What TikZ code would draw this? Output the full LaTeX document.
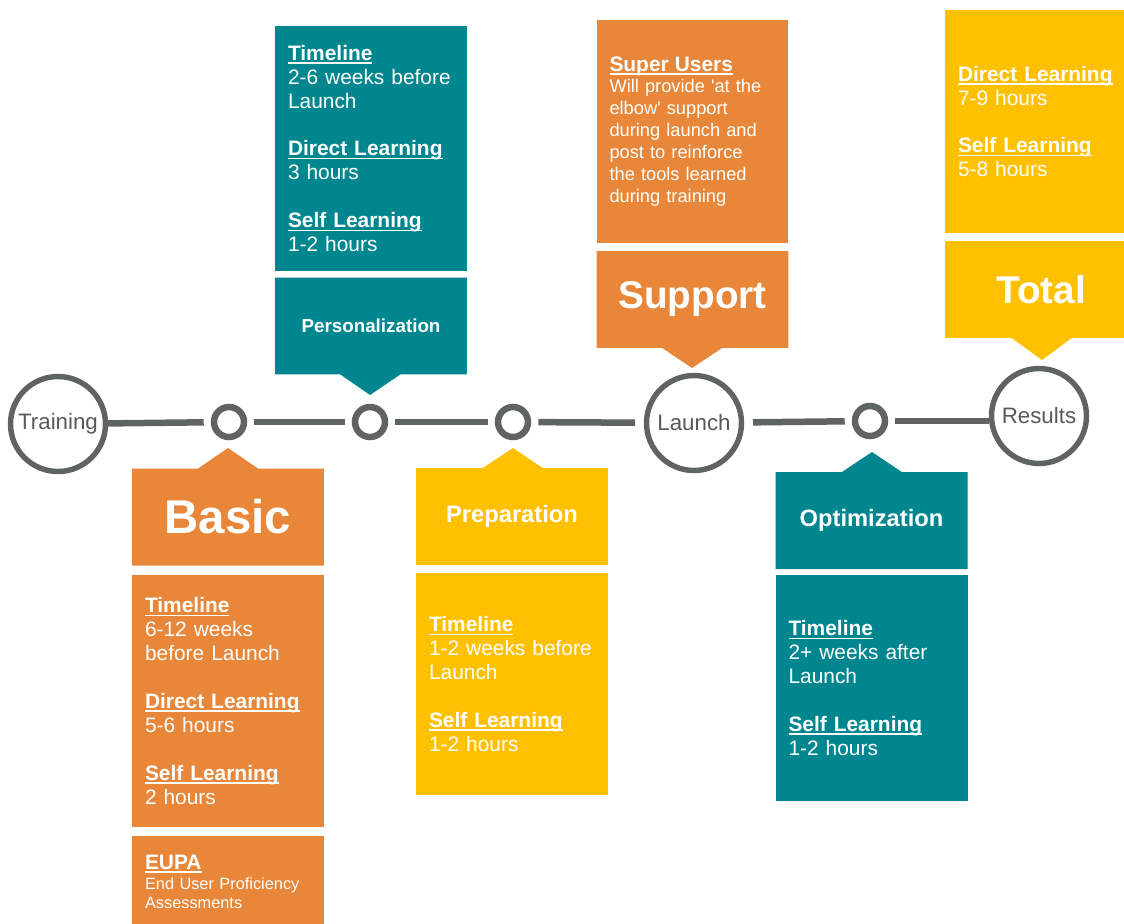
\documentclass[tikz,border=0pt]{standalone}
\usepackage{fontspec}
\setmainfont{Liberation Sans}
\usetikzlibrary{shapes.callouts}

\definecolor{orng}{HTML}{E8873A}
\definecolor{tealbox}{HTML}{00868F}
\definecolor{yell}{HTML}{FFC000}
\definecolor{linegray}{HTML}{5F6462}

\newsavebox{\hdbox}
\newcommand{\hd}[1]{\leavevmode\sbox{\hdbox}{\bfseries #1}\rlap{\rule[-2pt]{\wd\hdbox}{0.9pt}}\usebox{\hdbox}}
\newcommand{\bodyfont}{\fontsize{11.9}{13.6}\selectfont}

\begin{document}
\begin{tikzpicture}[x = 0.02cm, y = -0.02cm,
    tline/.style = {draw = linegray, line width = 3.7pt},
    big/.style = {shape = circle, draw = linegray, line width = 3.1pt, minimum size = 1.9cm, inner sep = 0pt,
        text = linegray!90!black, font = \fontsize{12.7}{14}\selectfont},
    small/.style = {shape = circle, draw = linegray, line width = 3.7pt, minimum size = 0.6cm, inner sep = 0pt},
    head/.style = {rectangle callout, callout pointer width = 1.2cm, minimum width = 3.84cm, minimum height = 1.94cm,
        inner sep = 0pt, text = white},
    info/.style = {rectangle, minimum width = 3.84cm, text width = 3.32cm, align = left, inner xsep = 0.26cm,
        inner ysep = 0pt, text = white, font = \bodyfont}]
    \useasboundingbox (0,0) rectangle (1124,923);
    \clip (0,0) rectangle (1124,923);

    \node [big] (Train) at (58,424) {Training};
    \node [small] (S1) at (229,422) {};
    \node [small] (S2) at (370,422) {};
    \node [small] (S3) at (513,422) {};
    \node [big] (Launch) at (694,423) {Launch};
    \node [small] (S4) at (870,421) {};
    \node [big] (Res) at (1039,416) {Results};

    \draw [tline, shorten > = 4pt] (Train) -- (S1);
    \draw [tline, shorten < = 4pt, shorten > = 4pt] (S1) -- (S2);
    \draw [tline, shorten < = 4pt, shorten > = 4pt] (S2) -- (S3);
    \draw [tline, shorten < = 4pt, shorten > = 5pt] (S3) -- (Launch);
    \draw [tline, shorten < = 5pt, shorten > = 4pt] (Launch) -- (S4);
    \draw [tline, shorten < = 4pt] (S4) -- (S4 -| Res.west);

    \node [head, fill = orng, callout absolute pointer = {(228,448)},
        font = \bfseries\fontsize{27}{30}\selectfont] (Basic) at (228,517) {Basic};
    \node [info, fill = orng, minimum height = 5.04cm] (BasicInfo) at (228,701)
        {\hd{Timeline}\\6-12 weeks\\before Launch\\[13.6pt]\hd{Direct Learning}\\5-6 hours\\[13.6pt]\hd{Self Learning}\\2 hours};
    \node [info, fill = orng, minimum height = 1.84cm, font = \fontsize{9.3}{11.3}\selectfont] (Eupa) at (228,882)
        {{\bodyfont\hd{EUPA}}\\End User Proficiency\\Assessments};

    \node [info, fill = tealbox, minimum height = 4.9cm] (PersInfo) at (371,148.5)
        {\hd{Timeline}\\2-6 weeks before\\Launch\\[13.6pt]\hd{Direct Learning}\\3 hours\\[13.6pt]\hd{Self Learning}\\1-2 hours};
    \node [head, fill = tealbox, callout absolute pointer = {(370,395)},
        font = \bfseries\fontsize{10.7}{12}\selectfont] (Pers) at (371,326) {Personalization};

    \node [head, fill = yell, callout absolute pointer = {(513,448)},
        font = \bfseries\fontsize{13.5}{15}\selectfont] (Prep) at (512,516.5) {Preparation};
    \node [info, fill = yell, minimum height = 4.44cm] (PrepInfo) at (512,684)
        {\hd{Timeline}\\1-2 weeks before\\Launch\\[13.6pt]\hd{Self Learning}\\1-2 hours};

    \node [info, fill = orng, minimum height = 4.46cm, font = \fontsize{10.4}{12.5}\selectfont] (SuppInfo) at (692.5,131.5)
        {{\bodyfont\hd{Super Users}}\\Will provide \textquotesingle at the\\elbow\textquotesingle{} support\\during launch and\\post to reinforce\\the tools learned\\during training};
    \node [head, fill = orng, callout absolute pointer = {(692,368)},
        font = \bfseries\fontsize{22}{25}\selectfont] (Supp) at (692.5,299.5) {Support};

    \node [head, fill = tealbox, callout absolute pointer = {(872,452)},
        font = \bfseries\fontsize{13.5}{15}\selectfont] (Opt) at (871.5,520.5) {Optimization};
    \node [info, fill = tealbox, minimum height = 4.52cm] (OptInfo) at (871.5,688)
        {\hd{Timeline}\\2+ weeks after\\Launch\\[13.6pt]\hd{Self Learning}\\1-2 hours};

    \node [info, fill = yell, minimum height = 4.46cm] (TotInfo) at (1041,121.5)
        {\hd{Direct Learning}\\7-9 hours\\[13.6pt]\hd{Self Learning}\\5-8 hours};
    \node [head, fill = yell, callout absolute pointer = {(1042,360)},
        font = \bfseries\fontsize{22}{25}\selectfont] (Tot) at (1041,289.5) {Total};
\end{tikzpicture}
\end{document}
